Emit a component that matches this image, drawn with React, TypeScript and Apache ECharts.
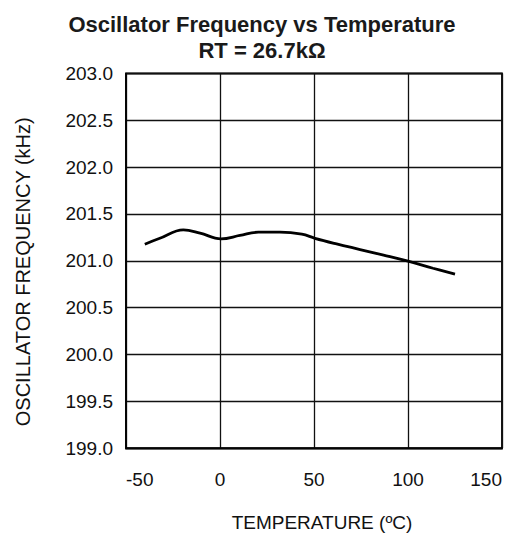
import React, { useEffect, useRef } from "react";
import * as echarts from "echarts";

const temperatures = [-40, -32, -19.5, -10.6, 0.5, 10.6, 20.4, 31.9, 43.5, 50.5, 62, 74.5, 87, 100, 113.3, 125];
const frequencies = [201.177, 201.24, 201.33, 201.295, 201.234, 201.27, 201.305, 201.305, 201.284, 201.24, 201.18, 201.12, 201.06, 200.995, 200.92, 200.857];
const xTicks = [-50, 0, 50, 100, 150];
const yMin = 199.0;
const yMax = 203.0;

const FONT = "'Liberation Sans', Arial, Helvetica, sans-serif";

export default function App() {
  const ref = useRef<HTMLDivElement>(null);
  useEffect(() => {
    document.body.style.margin = "0";
    const chart = echarts.init(ref.current!, null, { renderer: "svg" });
    chart.setOption({
      animation: false,
      backgroundColor: "#ffffff",
      title: {
        text: "Oscillator Frequency vs Temperature\nRT = 26.7kΩ",
        left: 257,
        top: 6,
        textAlign: "center",
        textStyle: {
          fontFamily: FONT,
          fontSize: 22,
          fontWeight: "bold",
          color: "#1a1a1a",
          lineHeight: 26,
        },
      },
      grid: { left: 126, right: 19, top: 73.5, bottom: 88.5 },
      xAxis: {
        type: "value",
        min: xTicks[0],
        max: xTicks[xTicks.length - 1],
        interval: 50,
        name: "TEMPERATURE (ºC)",
        nameLocation: "middle",
        nameGap: 65,
        nameTextStyle: { fontFamily: FONT, fontSize: 19, color: "#111", padding: [0, 0, 0, 16] },
        axisLine: { show: true, onZero: false, lineStyle: { color: "#000", width: 1.5 } },
        axisTick: { show: false },
        axisLabel: {
          fontFamily: FONT,
          fontSize: 19,
          color: "#111",
          margin: 22,
          alignMinLabel: "left",
          alignMaxLabel: "right",
          formatter: (v: number) => String(v),
        },
        splitLine: { show: true, lineStyle: { color: "#111", width: 1.3 } },
      },
      yAxis: {
        type: "value",
        min: yMin,
        max: yMax,
        interval: 0.5,
        name: "OSCILLATOR FREQUENCY (kHz)",
        nameLocation: "middle",
        nameGap: 93,
        nameRotate: 90,
        nameTextStyle: { fontFamily: FONT, fontSize: 20, color: "#111", padding: [0, 22, 0, 0] },
        axisLine: { show: true, onZero: false, lineStyle: { color: "#000", width: 1.5 } },
        axisTick: { show: false },
        axisLabel: { fontFamily: FONT, fontSize: 19, color: "#111", margin: 13, formatter: (v: number) => v.toFixed(1) },
        splitLine: { show: true, lineStyle: { color: "#111", width: 1.3 } },
      },
      graphic: [
        {
          type: "rect",
          shape: { x: 126, y: 73.5, width: 376, height: 375 },
          style: { fill: "none", stroke: "#000", lineWidth: 1.8 },
          silent: true,
        },
      ],
      series: [
        {
          type: "line",
          data: temperatures.map((t, i) => [t, frequencies[i]]),
          smooth: 0.4,
          showSymbol: false,
          lineStyle: { color: "#000", width: 2.8 },
        },
      ],
    });
    return () => chart.dispose();
  }, []);
  return <div ref={ref} style={{ width: 521, height: 537 }} />;
}
